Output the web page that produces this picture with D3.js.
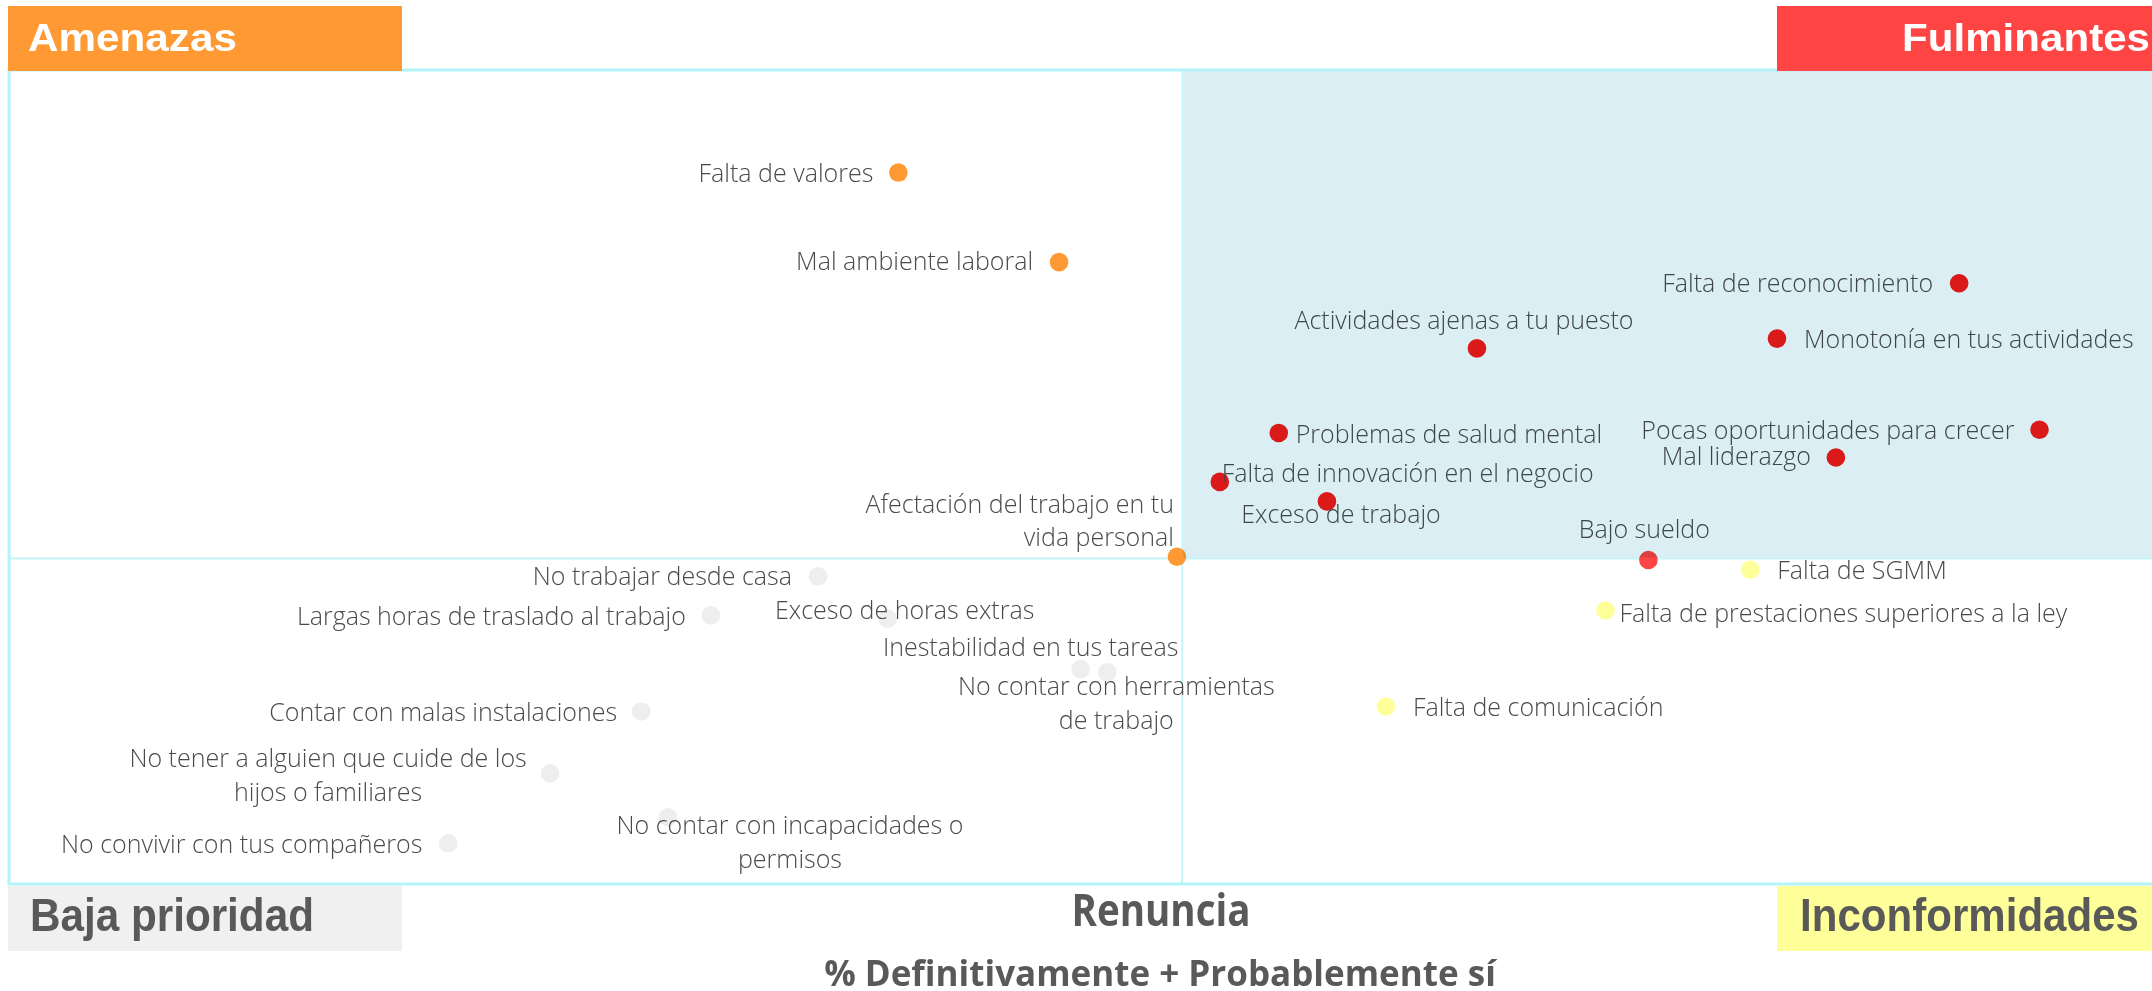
<!DOCTYPE html>
<html lang="es">
  <head>
    <meta charset="UTF-8" />
    <title>Renuncia - matriz de prioridades</title>
    <script src="https://cdn.jsdelivr.net/npm/d3@7"></script>
    <style>
      body { margin: 0; background: #fff; }
      svg { display: block; }
    </style>
  </head>
  <body>
    <svg id="svg"></svg>
  </body>
  <script>
    // datos (x = % renuncia, y = eje vertical sin titulo)
    const categories = [
      "Falta de valores",
      "Mal ambiente laboral",
      "Afectación del trabajo en tu\nvida personal",
      "Falta de reconocimiento",
      "Actividades ajenas a tu puesto",
      "Monotonía en tus actividades",
      "Problemas de salud mental",
      "Pocas oportunidades para crecer",
      "Mal liderazgo",
      "Falta de innovación en el negocio",
      "Exceso de trabajo",
      "Bajo sueldo",
      "Falta de SGMM",
      "Falta de prestaciones superiores a la ley",
      "Falta de comunicación",
      "No trabajar desde casa",
      "Largas horas de traslado al trabajo",
      "Exceso de horas extras",
      "Inestabilidad en tus tareas",
      "No contar con herramientas\nde trabajo",
      "Contar con malas instalaciones",
      "No tener a alguien que cuide de los\nhijos o familiares",
      "No contar con incapacidades o\npermisos",
      "No convivir con tus compañeros",
    ];
    const renuncia = [
      16.6, 19.6, 21.8, 36.4, 27.4, 33.0, 23.7, 37.9, 34.1, 22.6, 24.6, 30.6,
      32.5, 29.8, 25.7, 15.1, 13.1, 16.4, 20.0, 20.5, 11.8, 10.1, 12.3, 8.2,
    ];
    const impacto = [
      43.7, 38.2, 20.1, 36.9, 32.9, 33.5, 27.7, 27.9, 26.2, 24.7, 23.5, 19.9,
      19.3, 16.8, 10.9, 18.9, 16.5, 16.3, 13.2, 13.0, 10.6, 6.8, 4.1, 2.5,
    ];
    const grupo = [
      "Amenazas", "Amenazas", "Amenazas",
      "Fulminantes", "Fulminantes", "Fulminantes", "Fulminantes", "Fulminantes",
      "Fulminantes", "Fulminantes", "Fulminantes", "Limite",
      "Inconformidades", "Inconformidades", "Inconformidades",
      "Baja prioridad", "Baja prioridad", "Baja prioridad", "Baja prioridad",
      "Baja prioridad", "Baja prioridad", "Baja prioridad", "Baja prioridad",
      "Baja prioridad",
    ];
    const cortes = { x: 21.9, y: 20 };
    const ejeX = ["Renuncia", "% Definitivamente + Probablemente sí"];

    // colocacion de etiquetas: [anchor, dx, dy]
    const etiquetas = [
      ["end", -25, 9], ["end", -26, 8], ["end", -3, -44],
      ["end", -26, 9], ["middle", -13, -19], ["start", 27, 9],
      ["start", 17, 10], ["end", -25, 9], ["end", -25, 8],
      ["start", 2, 0], ["middle", 14, 22], ["middle", -4, -22],
      ["start", 27, 9], ["start", 14, 12], ["start", 27, 9],
      ["end", -26, 9], ["end", -25, 10], ["middle", 17, 0],
      ["end", 98, -13], ["middle", 9, 23], ["end", -24, 10],
      ["middle", -222, -6], ["middle", 122, 17], ["end", -26, 10],
    ];

    const colores = {
      Amenazas: "#ff9933",
      Fulminantes: "#ff1a1a",
      Limite: "#ff4444",
      Inconformidades: "#ffff99",
      "Baja prioridad": "#eeeeee",
    };

    const W = 2152, H = 991;
    const svg = d3.select("#svg").attr("width", W).attr("height", H);
    svg.append("rect").attr("width", W).attr("height", H).attr("fill", "#fff");

    const x = d3.scaleLinear().domain([0, 40]).range([9, 2152]);
    const y = d3.scaleLinear().domain([0, 50]).range([884, 70]);

    const borde = "#b3f4fa";

    // divisiones
    svg.append("line")
      .attr("x1", x(cortes.x)).attr("x2", x(cortes.x))
      .attr("y1", y(50)).attr("y2", y(0))
      .attr("stroke", "#c6f3f8").attr("stroke-width", 1.7);
    svg.append("line")
      .attr("x1", x(0)).attr("x2", x(40))
      .attr("y1", y(cortes.y)).attr("y2", y(cortes.y))
      .attr("stroke", "#c6f3f8").attr("stroke-width", 2);

    // marco
    svg.append("rect")
      .attr("x", x(0)).attr("y", y(50))
      .attr("width", x(40) - x(0) + 4).attr("height", y(0) - y(50))
      .attr("fill", "none").attr("stroke", borde).attr("stroke-width", 3);

    const pts = categories.map((c, i) => ({
      nombre: c, rx: renuncia[i], ry: impacto[i], g: grupo[i], lab: etiquetas[i],
    }));

    svg.append("g").selectAll("circle").data(pts).join("circle")
      .attr("cx", d => x(d.rx)).attr("cy", d => y(d.ry))
      .attr("r", 9.3).attr("fill", d => colores[d.g]);

    const lbl = svg.append("g")
      .attr("font-family", "'Open Sans', sans-serif")
      .attr("font-weight", 300)
      .attr("font-size", 25)
      .attr("fill", "#4a4a4a");
    lbl.selectAll("text").data(pts).join("text")
      .attr("text-anchor", d => d.lab[0])
      .each(function (d) {
        const t = d3.select(this);
        d.nombre.split("\n").forEach((linea, k) => {
          t.append("tspan")
            .attr("x", x(d.rx) + d.lab[1])
            .attr("y", y(d.ry) + d.lab[2] + k * 33.5)
            .text(linea);
        });
      });

    // cuadrante superior derecho (multiplica sobre puntos y textos)
    svg.append("rect")
      .attr("x", x(cortes.x) + 1).attr("y", y(50) + 1.5)
      .attr("width", x(40) - x(cortes.x)).attr("height", y(cortes.y) - y(50) - 2.5)
      .attr("fill", "#daeef3")
      .style("mix-blend-mode", "multiply");

    // texto comprimido horizontalmente hasta un ancho dado
    function textoAncho(sel, cx, by, anchor, ancho) {
      const n = sel.node().getComputedTextLength();
      const sx = ancho / n;
      sel.attr("x", 0).attr("y", 0)
        .attr("text-anchor", anchor)
        .attr("transform", `translate(${cx},${by}) scale(${sx},1)`);
    }

    // recuadros de los cuadrantes
    const cajas = [
      { t: "Amenazas", x0: 8, x1: 402, y0: 6, y1: 71, fill: "#ff9933", color: "#fff", tx: 28, anchor: "start", by: 51, fs: 39, len: 209 },
      { t: "Fulminantes", x0: 1777, x1: 2152, y0: 6, y1: 71, fill: "#ff4444", color: "#fff", tx: 2150, anchor: "end", by: 51, fs: 39, len: 248 },
      { t: "Baja prioridad", x0: 8, x1: 402, y0: 886, y1: 951, fill: "#f0f0f0", color: "#595959", tx: 30, anchor: "start", by: 931, fs: 47, len: 284 },
      { t: "Inconformidades", x0: 1777, x1: 2152, y0: 886, y1: 951, fill: "#ffff99", color: "#595959", tx: 2139, anchor: "end", by: 931, fs: 47, len: 339 },
    ];
    const gc = svg.append("g").selectAll("g").data(cajas).join("g");
    gc.append("rect")
      .attr("x", d => d.x0).attr("y", d => d.y0)
      .attr("width", d => d.x1 - d.x0).attr("height", d => d.y1 - d.y0)
      .attr("fill", d => d.fill);
    gc.append("text")
      .attr("font-family", "'Liberation Sans', Arial, sans-serif")
      .attr("font-weight", 700)
      .attr("font-size", d => d.fs)
      .attr("fill", d => d.color)
      .text(d => d.t)
      .each(function (d) {
        textoAncho(d3.select(this), d.tx, d.by, d.anchor, d.len);
      });

    // titulo eje x
    const t1 = svg.append("text")
      .attr("font-family", "'Open Sans', sans-serif")
      .attr("font-weight", 700).attr("font-size", 45)
      .attr("fill", "#595959")
      .text(ejeX[0]);
    textoAncho(t1, 1161, 926, "middle", 179);
    const t2 = svg.append("text")
      .attr("font-family", "'Open Sans', sans-serif")
      .attr("font-weight", 700).attr("font-size", 36)
      .attr("fill", "#595959")
      .text(ejeX[1]);
    textoAncho(t2, 1160, 986, "middle", 672);
  </script>
</html>
